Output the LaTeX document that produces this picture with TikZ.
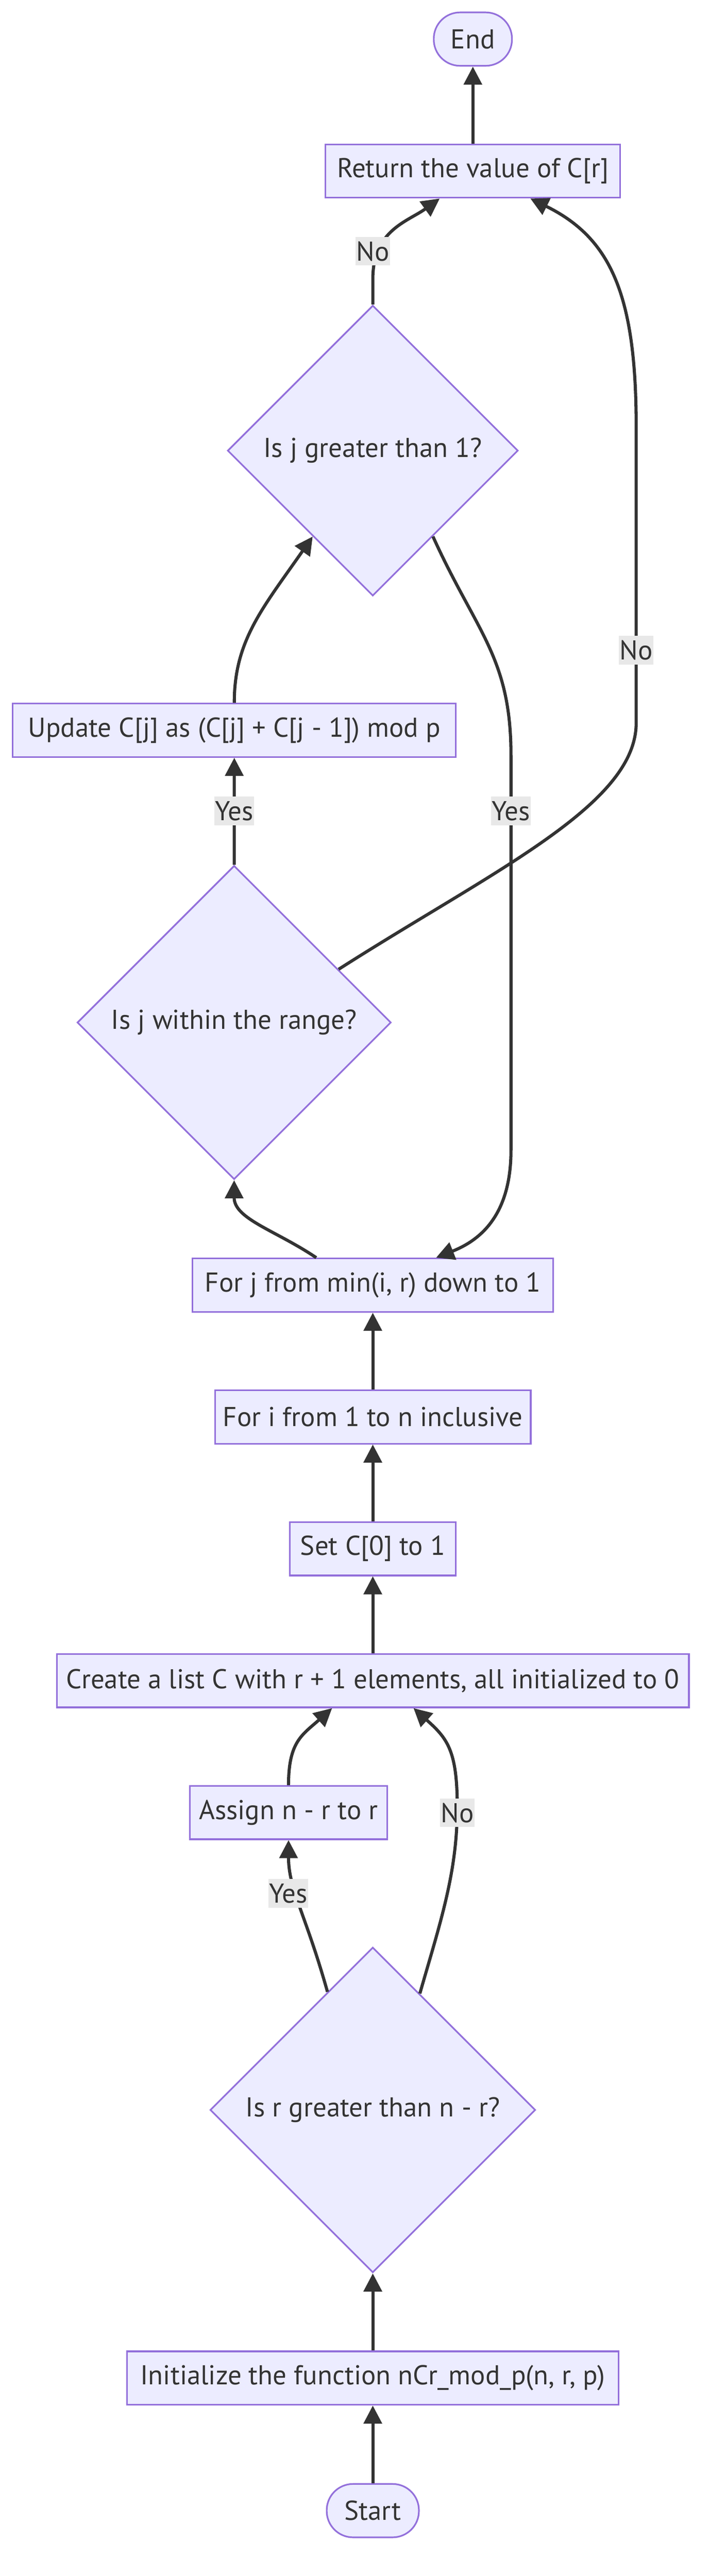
\documentclass[tikz,border=0pt]{standalone}
\usepackage{fontspec}
\setmainfont{PT Sans}
\usetikzlibrary{shapes.geometric,arrows.meta,positioning}
\definecolor{nodefill}{HTML}{ECECFF}
\definecolor{nodeline}{HTML}{9370DB}
\definecolor{edgeline}{HTML}{333333}
\definecolor{labelbg}{HTML}{E8E8E8}
\tikzset
{
    process/.style   = {rectangle, draw=nodeline, fill=nodefill, line width=1pt, text=edgeline, minimum height=32.5pt, inner sep=0pt, align=center},
    terminal/.style  = {process, rounded corners=16pt},
    decision/.style  = {diamond, draw=nodeline, fill=nodefill, line width=1pt, text=edgeline, inner sep=0pt, aspect=1},
    arrow/.style     = {draw=edgeline, line width=1.9pt, -{Triangle[length=11pt,width=11pt]}},
    edgelabel/.style = {fill=labelbg, text=edgeline, inner xsep=0.5pt, inner ysep=0pt, minimum height=17.5pt}
}

\begin{document}
\begin{tikzpicture}[x=1pt, y=-1pt, font=\fontsize{16.6pt}{19pt}\selectfont]

	 \useasboundingbox (0,0) rectangle (431.2,1568);

	 % nodes, top to bottom
	 \node (endN)   [terminal, minimum width=47.6pt]  at (287.8,23.8)   {End};
	 \node (ret)    [process, minimum width=179.4pt]  at (287.8,104.1)  {Return the value of C[r]};
	 \node (dG)     [decision, minimum width=176.8pt, minimum height=176.8pt] at (226.9,274.3) {Is j greater than 1?};
	 \node (upd)    [process, minimum width=269.8pt]  at (142.6,444.5)  {Update C[j] as (C[j] + C[j - 1]) mod p};
	 \node (dW)     [decision, minimum width=191pt, minimum height=191pt]     at (142.5,622.4) {Is j within the range?};
	 \node (forj)   [process, minimum width=219.5pt]  at (226.9,782.3)  {For j from min(i, r) down to 1};
	 \node (fori)   [process, minimum width=192.2pt]  at (226.9,862.5)  {For i from 1 to n inclusive};
	 \node (setc)   [process, minimum width=101.2pt]  at (226.9,942.7)  {Set C[0] to 1};
	 \node (create) [process, minimum width=384.7pt]  at (226.9,1023)   {Create a list C with r + 1 elements, all initialized to 0};
	 \node (assign) [process, minimum width=120.2pt]  at (175.6,1103.3) {Assign n - r to r};
	 \node (dR)     [decision, minimum width=198pt, minimum height=198pt]     at (226.9,1284.3) {Is r greater than n - r?};
	 \node (init)   [process, minimum width=299.2pt]  at (226.9,1447.5) {Initialize the function nCr\_mod\_p(n, r, p)};
	 \node (start)  [terminal, minimum width=56.1pt]  at (226.9,1528.2) {Start};

	 % straight connectors
	 \path
		  (start)  edge[arrow] (init)
		  (init)   edge[arrow] (dR)
		  (create) edge[arrow] (setc)
		  (setc)   edge[arrow] (fori)
		  (fori)   edge[arrow] (forj)
		  (dW)     edge[arrow] (upd)
		  (ret)    edge[arrow] (endN);

	 % curved connectors
	 \draw[arrow] (dR.111.7) .. controls (186,1165) and (175.6,1150) .. (assign.south);
	 \draw[arrow] (dR.68.1) .. controls (268,1170) and (278.3,1140) .. (278.3,1100) .. controls (278.3,1065) and (272,1058) .. ([xshift=24.8pt]create.south);
	 \draw[arrow] (assign.north) .. controls (175.6,1060) and (184,1056) .. ([xshift=-24.8pt]create.south);
	 \draw[arrow] ([xshift=-34.4pt]forj.north) .. controls (168,749) and (142.5,742) .. (dW.south);
	 \draw[arrow] (upd.north) .. controls (142.5,390) and (160,370) .. (dG.235.3);
	 \draw[arrow] (dG.north) -- (226.9,170) .. controls (226.9,140) and (248,135) .. ([xshift=-20.2pt]ret.south);
	 \draw[arrow] (dW.27.5) .. controls (300,530) and (387.2,490) .. (387.2,440) -- (387.2,260) .. controls (387.2,180) and (372,145) .. ([xshift=35pt]ret.south);
	 \draw[arrow] (dG.-55.1) .. controls (290,385) and (311,400) .. (311,460) -- (311,700) .. controls (311,740) and (292,755) .. ([xshift=38.5pt]forj.north);

	 % edge labels
	 \node (lNoG)  [edgelabel] at (226.9,152.9)  {No};
	 \node (lNoW)  [edgelabel] at (387.2,395.7)  {No};
	 \node (lYesW) [edgelabel] at (142.5,493.6)  {Yes};
	 \node (lYesG) [edgelabel] at (311,493.6)    {Yes};
	 \node (lYesR) [edgelabel] at (175.4,1152.4) {Yes};
	 \node (lNoR)  [edgelabel] at (278.3,1103.4) {No};

\end{tikzpicture}
\end{document}
